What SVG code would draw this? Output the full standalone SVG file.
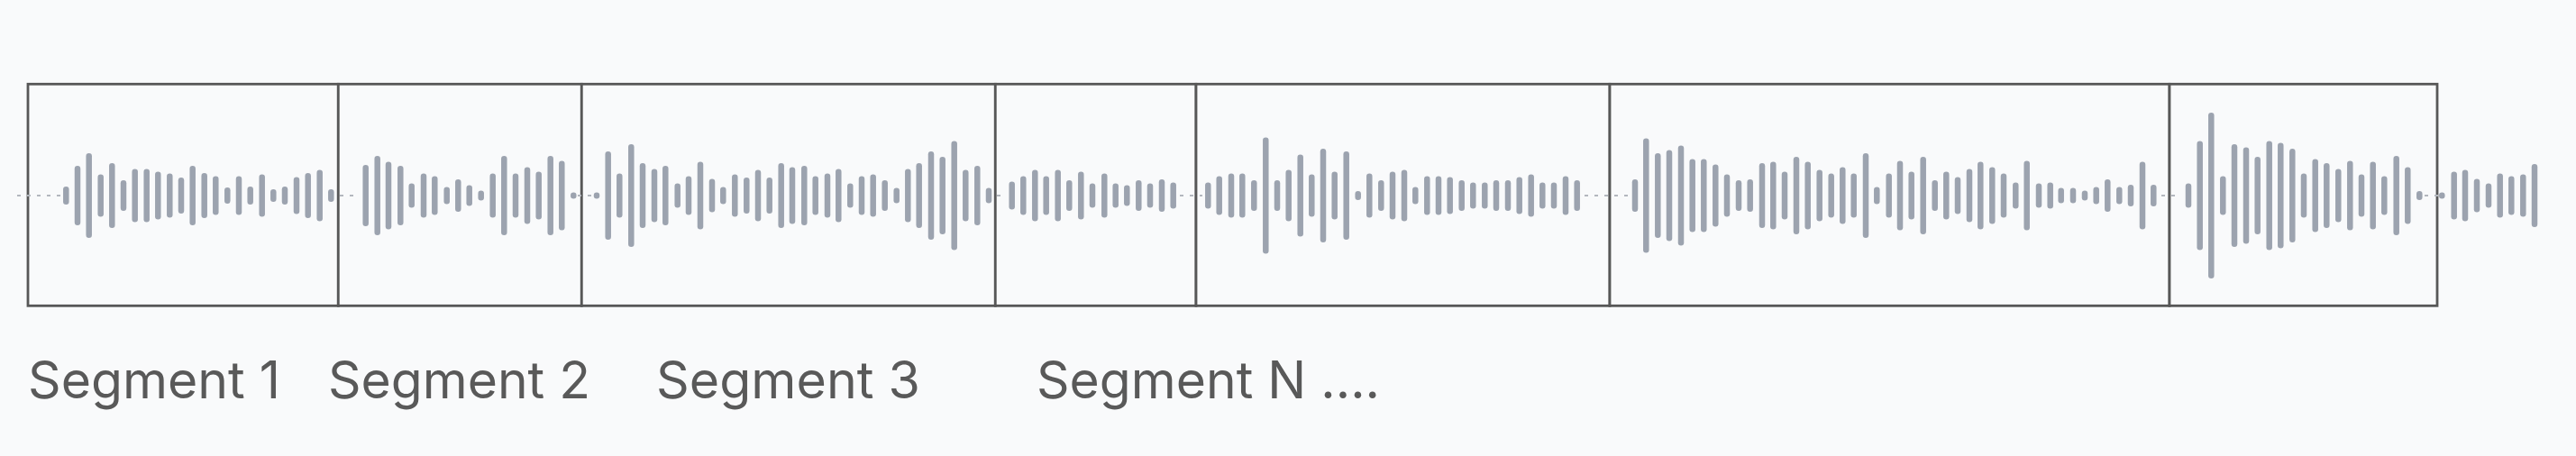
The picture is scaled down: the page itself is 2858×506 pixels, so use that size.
<svg xmlns="http://www.w3.org/2000/svg" width="2858" height="506" viewBox="0 0 2858 506">
<style>
.bg{fill:#f9fafb}
.seg{fill:#f9fafb;stroke:#575757;stroke-width:2.8}
.bars rect{fill:#9ca3af}
.base{stroke:#b3b7be;stroke-width:2;stroke-dasharray:4 7;fill:none}
.lbl{font-family:Inter,"Noto Sans","Liberation Sans",sans-serif;font-size:57px;fill:#595959}
</style>
<rect class="bg" x="0" y="0" width="2858" height="506"/>
<g id="segment-1"><rect class="seg" x="31" y="93.3" width="344.3" height="246"/></g>
<g id="segment-2"><rect class="seg" x="375.3" y="93.3" width="270" height="246"/></g>
<g id="segment-3"><rect class="seg" x="645.3" y="93.3" width="459" height="246"/></g>
<g id="segment-4"><rect class="seg" x="1104.3" y="93.3" width="222.7" height="246"/></g>
<g id="segment-5"><rect class="seg" x="1327" y="93.3" width="459" height="246"/></g>
<g id="segment-6"><rect class="seg" x="1786" y="93.3" width="621" height="246"/></g>
<g id="segment-7"><rect class="seg" x="2407" y="93.3" width="297" height="246"/></g>
<g id="connectors">
<path class="base" d="M19 217H67M377 217H399M641 217H658M1106 217H1113M1309 217H1334M1758 217H1808M2398 217H2420M2690 217H2706"/>
</g>
<g id="waveform" class="bars" transform="translate(-3.25,217)">
<rect x="73.3" y="-10" width="6.5" height="20" rx="3.25"/>
<rect x="86" y="-33" width="6.5" height="66" rx="3.25"/>
<rect x="98.7" y="-47" width="6.5" height="94" rx="3.25"/>
<rect x="111.7" y="-23.5" width="6.5" height="47" rx="3.25"/>
<rect x="124.3" y="-36" width="6.5" height="72" rx="3.25"/>
<rect x="137" y="-17" width="6.5" height="34" rx="3.25"/>
<rect x="149.7" y="-29.5" width="6.5" height="59" rx="3.25"/>
<rect x="162.7" y="-29.5" width="6.5" height="59" rx="3.25"/>
<rect x="175.3" y="-26.5" width="6.5" height="53" rx="3.25"/>
<rect x="188.3" y="-24.5" width="6.5" height="49" rx="3.25"/>
<rect x="201" y="-20" width="6.5" height="40" rx="3.25"/>
<rect x="213.7" y="-33" width="6.5" height="66" rx="3.25"/>
<rect x="226.7" y="-25" width="6.5" height="50" rx="3.25"/>
<rect x="239.3" y="-21.5" width="6.5" height="43" rx="3.25"/>
<rect x="252.3" y="-9" width="6.5" height="18" rx="3.25"/>
<rect x="265" y="-21.5" width="6.5" height="43" rx="3.25"/>
<rect x="277.7" y="-10" width="6.5" height="20" rx="3.25"/>
<rect x="290.7" y="-23.5" width="6.5" height="47" rx="3.25"/>
<rect x="303.3" y="-7" width="6.5" height="14" rx="3.25"/>
<rect x="316" y="-10" width="6.5" height="20" rx="3.25"/>
<rect x="329" y="-20.5" width="6.5" height="41" rx="3.25"/>
<rect x="341.7" y="-25" width="6.5" height="50" rx="3.25"/>
<rect x="354.7" y="-28.5" width="6.5" height="57" rx="3.25"/>
<rect x="367.3" y="-7" width="6.5" height="14" rx="3.25"/>
<rect x="405.7" y="-34" width="6.5" height="68" rx="3.25"/>
<rect x="418.7" y="-44" width="6.5" height="88" rx="3.25"/>
<rect x="431" y="-37.5" width="6.5" height="75" rx="3.25"/>
<rect x="444.3" y="-33" width="6.5" height="66" rx="3.25"/>
<rect x="456.7" y="-13.5" width="6.5" height="27" rx="3.25"/>
<rect x="470" y="-24.5" width="6.5" height="49" rx="3.25"/>
<rect x="482.3" y="-21.5" width="6.5" height="43" rx="3.25"/>
<rect x="495.7" y="-9.5" width="6.5" height="19" rx="3.25"/>
<rect x="508.3" y="-18" width="6.5" height="36" rx="3.25"/>
<rect x="520.7" y="-11.5" width="6.5" height="23" rx="3.25"/>
<rect x="533.7" y="-5.5" width="6.5" height="11" rx="3.25"/>
<rect x="546.7" y="-24.5" width="6.5" height="49" rx="3.25"/>
<rect x="559.3" y="-44" width="6.5" height="88" rx="3.25"/>
<rect x="572" y="-24.5" width="6.5" height="49" rx="3.25"/>
<rect x="585" y="-31.5" width="6.5" height="63" rx="3.25"/>
<rect x="597.7" y="-26.5" width="6.5" height="53" rx="3.25"/>
<rect x="610.7" y="-44" width="6.5" height="88" rx="3.25"/>
<rect x="623.3" y="-38.5" width="6.5" height="77" rx="3.25"/>
<rect x="636.3" y="-3.5" width="6.5" height="7" rx="3.25"/>
<rect x="662" y="-3.5" width="6.5" height="7" rx="3.25"/>
<rect x="674.7" y="-49" width="6.5" height="98" rx="3.25"/>
<rect x="687.3" y="-24.5" width="6.5" height="49" rx="3.25"/>
<rect x="700.3" y="-57" width="6.5" height="114" rx="3.25"/>
<rect x="713" y="-36" width="6.5" height="72" rx="3.25"/>
<rect x="726" y="-29.5" width="6.5" height="59" rx="3.25"/>
<rect x="738.3" y="-33" width="6.5" height="66" rx="3.25"/>
<rect x="751.7" y="-13.5" width="6.5" height="27" rx="3.25"/>
<rect x="764" y="-21.5" width="6.5" height="43" rx="3.25"/>
<rect x="777" y="-37.5" width="6.5" height="75" rx="3.25"/>
<rect x="790" y="-18.5" width="6.5" height="37" rx="3.25"/>
<rect x="802.3" y="-9.5" width="6.5" height="19" rx="3.25"/>
<rect x="815.3" y="-23.5" width="6.5" height="47" rx="3.25"/>
<rect x="828.3" y="-20" width="6.5" height="40" rx="3.25"/>
<rect x="841" y="-28.5" width="6.5" height="57" rx="3.25"/>
<rect x="853.7" y="-20" width="6.5" height="40" rx="3.25"/>
<rect x="866.7" y="-36" width="6.5" height="72" rx="3.25"/>
<rect x="879" y="-31.5" width="6.5" height="63" rx="3.25"/>
<rect x="892.3" y="-33" width="6.5" height="66" rx="3.25"/>
<rect x="904.7" y="-21.5" width="6.5" height="43" rx="3.25"/>
<rect x="918" y="-24.5" width="6.5" height="49" rx="3.25"/>
<rect x="930.3" y="-29.5" width="6.5" height="59" rx="3.25"/>
<rect x="943.3" y="-13.5" width="6.5" height="27" rx="3.25"/>
<rect x="956" y="-21.5" width="6.5" height="43" rx="3.25"/>
<rect x="968.7" y="-23.5" width="6.5" height="47" rx="3.25"/>
<rect x="981.7" y="-17" width="6.5" height="34" rx="3.25"/>
<rect x="994.7" y="-8.5" width="6.5" height="17" rx="3.25"/>
<rect x="1007.3" y="-29.5" width="6.5" height="59" rx="3.25"/>
<rect x="1019.7" y="-36" width="6.5" height="72" rx="3.25"/>
<rect x="1033" y="-49" width="6.5" height="98" rx="3.25"/>
<rect x="1045.7" y="-43" width="6.5" height="86" rx="3.25"/>
<rect x="1058.7" y="-60.5" width="6.5" height="121" rx="3.25"/>
<rect x="1071.3" y="-28.5" width="6.5" height="57" rx="3.25"/>
<rect x="1084.3" y="-33" width="6.5" height="66" rx="3.25"/>
<rect x="1097" y="-8.5" width="6.5" height="17" rx="3.25"/>
<rect x="1122.7" y="-15.5" width="6.5" height="31" rx="3.25"/>
<rect x="1135.3" y="-21.5" width="6.5" height="43" rx="3.25"/>
<rect x="1148.3" y="-28.5" width="6.5" height="57" rx="3.25"/>
<rect x="1160.7" y="-21.5" width="6.5" height="43" rx="3.25"/>
<rect x="1173.7" y="-28.5" width="6.5" height="57" rx="3.25"/>
<rect x="1186.3" y="-17" width="6.5" height="34" rx="3.25"/>
<rect x="1199.3" y="-26.5" width="6.5" height="53" rx="3.25"/>
<rect x="1212" y="-13.5" width="6.5" height="27" rx="3.25"/>
<rect x="1225.3" y="-24.5" width="6.5" height="49" rx="3.25"/>
<rect x="1237.7" y="-13.5" width="6.5" height="27" rx="3.25"/>
<rect x="1250.3" y="-11.5" width="6.5" height="23" rx="3.25"/>
<rect x="1263.3" y="-17" width="6.5" height="34" rx="3.25"/>
<rect x="1276" y="-13.5" width="6.5" height="27" rx="3.25"/>
<rect x="1289" y="-18" width="6.5" height="36" rx="3.25"/>
<rect x="1301.7" y="-14.5" width="6.5" height="29" rx="3.25"/>
<rect x="1340.3" y="-14.5" width="6.5" height="29" rx="3.25"/>
<rect x="1352.7" y="-21.5" width="6.5" height="43" rx="3.25"/>
<rect x="1366" y="-24.5" width="6.5" height="49" rx="3.25"/>
<rect x="1378.3" y="-24.5" width="6.5" height="49" rx="3.25"/>
<rect x="1391.3" y="-17" width="6.5" height="34" rx="3.25"/>
<rect x="1404.3" y="-64.5" width="6.5" height="129" rx="3.25"/>
<rect x="1417" y="-17" width="6.5" height="34" rx="3.25"/>
<rect x="1429.7" y="-28.5" width="6.5" height="57" rx="3.25"/>
<rect x="1442.7" y="-45.5" width="6.5" height="91" rx="3.25"/>
<rect x="1455.3" y="-23.5" width="6.5" height="47" rx="3.25"/>
<rect x="1468" y="-52" width="6.5" height="104" rx="3.25"/>
<rect x="1480.7" y="-26.5" width="6.5" height="53" rx="3.25"/>
<rect x="1493.7" y="-49" width="6.5" height="98" rx="3.25"/>
<rect x="1506.7" y="-5" width="6.5" height="10" rx="3.25"/>
<rect x="1519.3" y="-24.5" width="6.5" height="49" rx="3.25"/>
<rect x="1532.3" y="-17" width="6.5" height="34" rx="3.25"/>
<rect x="1545" y="-26.5" width="6.5" height="53" rx="3.25"/>
<rect x="1558" y="-28.5" width="6.5" height="57" rx="3.25"/>
<rect x="1570.3" y="-9.5" width="6.5" height="19" rx="3.25"/>
<rect x="1583.3" y="-21.5" width="6.5" height="43" rx="3.25"/>
<rect x="1596" y="-21.5" width="6.5" height="43" rx="3.25"/>
<rect x="1608.7" y="-20.5" width="6.5" height="41" rx="3.25"/>
<rect x="1621.7" y="-17" width="6.5" height="34" rx="3.25"/>
<rect x="1634.3" y="-14.5" width="6.5" height="29" rx="3.25"/>
<rect x="1647.3" y="-14.5" width="6.5" height="29" rx="3.25"/>
<rect x="1660" y="-17" width="6.5" height="34" rx="3.25"/>
<rect x="1673" y="-17" width="6.5" height="34" rx="3.25"/>
<rect x="1685.7" y="-20.5" width="6.5" height="41" rx="3.25"/>
<rect x="1698.7" y="-23.5" width="6.5" height="47" rx="3.25"/>
<rect x="1711.3" y="-14.5" width="6.5" height="29" rx="3.25"/>
<rect x="1724" y="-14.5" width="6.5" height="29" rx="3.25"/>
<rect x="1737" y="-21.5" width="6.5" height="43" rx="3.25"/>
<rect x="1749.7" y="-17" width="6.5" height="34" rx="3.25"/>
<rect x="1814" y="-18" width="6.5" height="36" rx="3.25"/>
<rect x="1826.3" y="-63.5" width="6.5" height="127" rx="3.25"/>
<rect x="1839.3" y="-47" width="6.5" height="94" rx="3.25"/>
<rect x="1852" y="-50.5" width="6.5" height="101" rx="3.25"/>
<rect x="1865" y="-55.5" width="6.5" height="111" rx="3.25"/>
<rect x="1877.7" y="-40.5" width="6.5" height="81" rx="3.25"/>
<rect x="1890.3" y="-40.5" width="6.5" height="81" rx="3.25"/>
<rect x="1903.3" y="-34.5" width="6.5" height="69" rx="3.25"/>
<rect x="1916" y="-23.5" width="6.5" height="47" rx="3.25"/>
<rect x="1929" y="-17" width="6.5" height="34" rx="3.25"/>
<rect x="1941.7" y="-18" width="6.5" height="36" rx="3.25"/>
<rect x="1955" y="-36" width="6.5" height="72" rx="3.25"/>
<rect x="1967.3" y="-37.5" width="6.5" height="75" rx="3.25"/>
<rect x="1980" y="-26.5" width="6.5" height="53" rx="3.25"/>
<rect x="1993" y="-43" width="6.5" height="86" rx="3.25"/>
<rect x="2005.7" y="-37.5" width="6.5" height="75" rx="3.25"/>
<rect x="2018.7" y="-28.5" width="6.5" height="57" rx="3.25"/>
<rect x="2031.7" y="-24.5" width="6.5" height="49" rx="3.25"/>
<rect x="2044.3" y="-31.5" width="6.5" height="63" rx="3.25"/>
<rect x="2056.7" y="-24.5" width="6.5" height="49" rx="3.25"/>
<rect x="2070" y="-47" width="6.5" height="94" rx="3.25"/>
<rect x="2082.3" y="-9.5" width="6.5" height="19" rx="3.25"/>
<rect x="2095.7" y="-24.5" width="6.5" height="49" rx="3.25"/>
<rect x="2108" y="-38.5" width="6.5" height="77" rx="3.25"/>
<rect x="2120.7" y="-26.5" width="6.5" height="53" rx="3.25"/>
<rect x="2133.7" y="-43" width="6.5" height="86" rx="3.25"/>
<rect x="2146.7" y="-17" width="6.5" height="34" rx="3.25"/>
<rect x="2159.3" y="-26.5" width="6.5" height="53" rx="3.25"/>
<rect x="2172" y="-20.5" width="6.5" height="41" rx="3.25"/>
<rect x="2185" y="-29.5" width="6.5" height="59" rx="3.25"/>
<rect x="2197.3" y="-37.5" width="6.5" height="75" rx="3.25"/>
<rect x="2210.3" y="-31.5" width="6.5" height="63" rx="3.25"/>
<rect x="2223" y="-24.5" width="6.5" height="49" rx="3.25"/>
<rect x="2236.3" y="-14.5" width="6.5" height="29" rx="3.25"/>
<rect x="2248.7" y="-38.5" width="6.5" height="77" rx="3.25"/>
<rect x="2262" y="-13.5" width="6.5" height="27" rx="3.25"/>
<rect x="2274.7" y="-14.5" width="6.5" height="29" rx="3.25"/>
<rect x="2286.7" y="-8.5" width="6.5" height="17" rx="3.25"/>
<rect x="2300" y="-8.5" width="6.5" height="17" rx="3.25"/>
<rect x="2313" y="-5.5" width="6.5" height="11" rx="3.25"/>
<rect x="2325.7" y="-9.5" width="6.5" height="19" rx="3.25"/>
<rect x="2338.3" y="-18" width="6.5" height="36" rx="3.25"/>
<rect x="2351.3" y="-9.5" width="6.5" height="19" rx="3.25"/>
<rect x="2364" y="-12" width="6.5" height="24" rx="3.25"/>
<rect x="2377" y="-37.5" width="6.5" height="75" rx="3.25"/>
<rect x="2389.3" y="-12" width="6.5" height="24" rx="3.25"/>
<rect x="2428" y="-13.5" width="6.5" height="27" rx="3.25"/>
<rect x="2440.7" y="-60.5" width="6.5" height="121" rx="3.25"/>
<rect x="2453.3" y="-92" width="6.5" height="184" rx="3.25"/>
<rect x="2466.3" y="-21.5" width="6.5" height="43" rx="3.25"/>
<rect x="2479" y="-57" width="6.5" height="114" rx="3.25"/>
<rect x="2492" y="-53.5" width="6.5" height="107" rx="3.25"/>
<rect x="2504.7" y="-43" width="6.5" height="86" rx="3.25"/>
<rect x="2517.7" y="-60.5" width="6.5" height="121" rx="3.25"/>
<rect x="2530.3" y="-58.5" width="6.5" height="117" rx="3.25"/>
<rect x="2543.3" y="-52" width="6.5" height="104" rx="3.25"/>
<rect x="2556" y="-24.5" width="6.5" height="49" rx="3.25"/>
<rect x="2568.7" y="-40.5" width="6.5" height="81" rx="3.25"/>
<rect x="2581.3" y="-36" width="6.5" height="72" rx="3.25"/>
<rect x="2594.3" y="-29.5" width="6.5" height="59" rx="3.25"/>
<rect x="2607.3" y="-38.5" width="6.5" height="77" rx="3.25"/>
<rect x="2620" y="-23.5" width="6.5" height="47" rx="3.25"/>
<rect x="2632.7" y="-37.5" width="6.5" height="75" rx="3.25"/>
<rect x="2645.3" y="-21.5" width="6.5" height="43" rx="3.25"/>
<rect x="2658.7" y="-44" width="6.5" height="88" rx="3.25"/>
<rect x="2671.3" y="-31.5" width="6.5" height="63" rx="3.25"/>
<rect x="2684.3" y="-5" width="6.5" height="10" rx="3.25"/>
<rect x="2709.3" y="-3.5" width="6.5" height="7" rx="3.25"/>
<rect x="2722.7" y="-26.5" width="6.5" height="53" rx="3.25"/>
<rect x="2735" y="-28.5" width="6.5" height="57" rx="3.25"/>
<rect x="2748" y="-18.5" width="6.5" height="37" rx="3.25"/>
<rect x="2761" y="-13.5" width="6.5" height="27" rx="3.25"/>
<rect x="2773.7" y="-24.5" width="6.5" height="49" rx="3.25"/>
<rect x="2786.3" y="-21.5" width="6.5" height="43" rx="3.25"/>
<rect x="2799.3" y="-23.5" width="6.5" height="47" rx="3.25"/>
<rect x="2812" y="-35" width="6.5" height="70" rx="3.25"/>
</g>
<g id="labels">
<text class="lbl" x="31" y="441.7" textLength="280" lengthAdjust="spacingAndGlyphs">Segment 1</text>
<text class="lbl" x="364" y="441.7" textLength="291" lengthAdjust="spacingAndGlyphs">Segment 2</text>
<text class="lbl" x="728" y="441.7" textLength="293" lengthAdjust="spacingAndGlyphs">Segment 3</text>
<text class="lbl" x="1150" y="441.7" textLength="381" lengthAdjust="spacingAndGlyphs">Segment N ....</text>
</g>
</svg>
